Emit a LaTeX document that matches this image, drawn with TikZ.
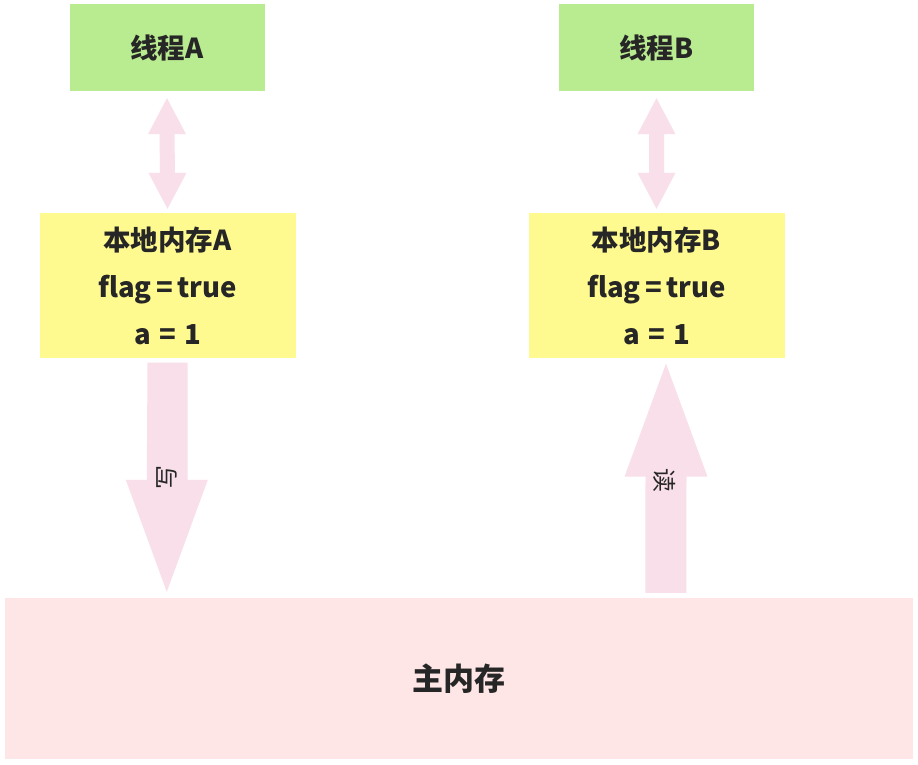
\documentclass[tikz,border=0pt]{standalone}
\usepackage{fontspec}
\setmainfont{Noto Sans CJK SC}
\usetikzlibrary{calc}
\definecolor{thr}{HTML}{B9EB91}
\definecolor{loc}{HTML}{FFFA8F}
\definecolor{mem}{HTML}{FFE6E6}
\definecolor{arr}{HTML}{F9DFEA}
\definecolor{txt}{HTML}{262626}
\begin{document}
\begin{tikzpicture}[x=1pt,y=-1pt,
  box/.style={rectangle,inner sep=0pt,text=txt,font=\bfseries\fontsize{27.5}{47}\selectfont,align=center},
  thread/.style={box,fill=thr,minimum width=195pt,minimum height=87pt},
  local/.style={box,fill=loc,minimum width=256pt,minimum height=145pt},
  blockarrow/.style={fill=arr,draw=none},
  arrlabel/.style={text=txt,font=\fontsize{24}{24}\selectfont,inner sep=0pt}]
\useasboundingbox (0,0) rectangle (918,764);
\fill[white] (0,0) rectangle (918,764);

\node[thread] (ta) at (167,47.5) {线程A};
\node[thread] (tb) at (656.5,47.5) {线程B};
\node[local] (la) at (167.5,285.5) {本地内存A\\flag\,=\,true\\a\hspace{0.3em}=\hspace{0.3em}1};
\node[local] (lb) at (656.5,285.5) {本地内存B\\flag\,=\,true\\a\hspace{0.3em}=\hspace{0.3em}1};
\node[box,fill=mem,minimum width=908pt,minimum height=161pt,font=\bfseries\fontsize{31}{31}\selectfont] (main) at (459,678.5) {主内存};

% double arrows thread <-> local memory
\foreach \t/\l/\n in {ta/la/A,tb/lb/B}{
  \coordinate (top\n) at ($(\t.south)+(0,7)$);
  \coordinate (bot\n) at ($(\l.north)+(0,-4)$);
  \fill[blockarrow] (top\n) -- ($(top\n)+(19,36)$) -- ($(top\n)+(7.5,36)$)
    -- ($(bot\n)+(7.5,-36)$) -- ($(bot\n)+(19,-36)$) -- (bot\n)
    -- ($(bot\n)+(-19,-36)$) -- ($(bot\n)+(-7.5,-36)$)
    -- ($(top\n)+(-7.5,36)$) -- ($(top\n)+(-19,36)$) -- cycle;
}

% write arrow: local A -> main
\coordinate (ws) at ($(la.south)+(0,4.5)$);
\coordinate (wt) at ($(main.north west)+(162,-6)$);
\fill[blockarrow] (ws) ++(-20,0) -- ++(40,0) |- ($(wt)+(20,-112)$) -- ++(21,0) -- (wt|-wt)
  -- ($(wt)+(-41,-112)$) -- ($(wt)+(-20,-112)$) -- cycle;
\node[arrlabel,rotate=90] (wl) at ($(wt)+(0,-114)$) {写};

% read arrow: main -> local B
\coordinate (rs) at ($(main.north west)+(661,-5)$);
\coordinate (rt) at ($(lb.south)+(9.5,5.5)$);
\fill[blockarrow] ($(rs)+(-20.5,0)$) -- ($(rs)+(20.5,0)$) -- ($(rt)+(20.5,113)$)
  -- ($(rt)+(41.5,113)$) -- (rt) -- ($(rt)+(-41.5,113)$) -- ($(rt)+(-20.5,113)$) -- cycle;
\node[arrlabel,rotate=-90] (rl) at ($(rt)+(-1,117)$) {读};
\end{tikzpicture}
\end{document}
